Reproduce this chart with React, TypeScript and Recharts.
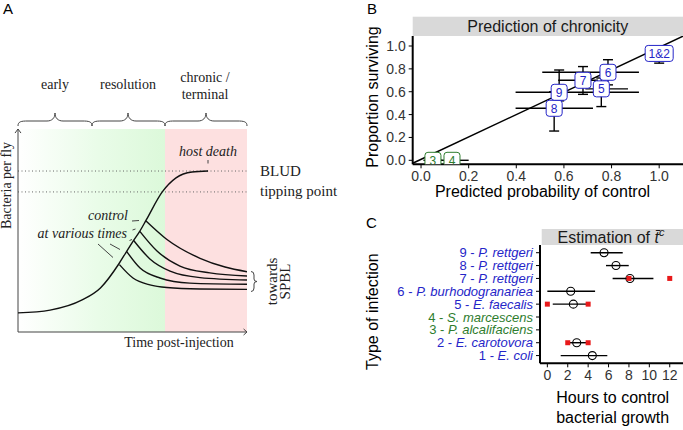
import React from "react";
import {
  ComposedChart,
  ScatterChart,
  Line,
  Scatter,
  XAxis,
  YAxis,
  ErrorBar,
  ReferenceArea,
  ReferenceLine,
} from "recharts";

// ---------- panel A: schematic course of an infection (arbitrary units 0-100)
const mainTime = [0, 14, 28, 36, 44, 47, 50, 53, 56, 63, 69, 76, 83];
const mainLoad = [9.4, 10.8, 15.8, 21.7, 33.5, 38.9, 44.3, 49.3, 55.2, 69, 75.9, 78.8, 79.3];

const ctrl1Time = [44.3, 50.2, 57.6, 65, 79.5, 100];
const ctrl1Load = [33.2, 26.6, 23.2, 21.9, 21.2, 21];
const ctrl2Time = [47.5, 53.3, 62, 75, 100];
const ctrl2Load = [39.6, 31.5, 26.6, 24.1, 23.5];
const ctrl3Time = [50.5, 57.6, 66.4, 79.5, 100];
const ctrl3Load = [45.1, 36, 30, 26.8, 25.6];
const ctrl4Time = [53.2, 60.7, 70.7, 83.8, 100];
const ctrl4Load = [49.6, 39.9, 32.5, 29.1, 27.6];
const ctrl5Time = [55.8, 64.9, 79.5, 90.4, 100];
const ctrl5Load = [54.8, 45.7, 36.3, 32, 29.7];

const phaseEdges = [0, 32.3, 64.2, 100];
const bludLevel = 79.3;
const tippingLevel = 69;

// ---------- panel B: prediction of chronicity
const chronLabels = ["1&2", "3", "4", "5", "6", "7", "8", "9"];
const chronKind = ["resolving", "chronic", "chronic", "resolving", "resolving", "resolving", "resolving", "resolving"];
const chronPred = [1.0, 0.05, 0.13, 0.757, 0.785, 0.68, 0.559, 0.58];
const chronPredLo = [1.0, 0.01, 0.07, 0.69, 0.509, 0.576, 0.397, 0.397];
const chronPredHi = [1.0, 0.09, 0.2, 0.869, 0.915, 0.743, 0.722, 0.915];
const chronSurv = [0.935, 0, 0, 0.625, 0.77, 0.7, 0.455, 0.595];
const chronSurvLo = [0.85, 0, 0, 0.47, 0.66, 0.577, 0.256, 0.52];
const chronSurvHi = [0.97, 0, 0, 0.72, 0.88, 0.82, 0.6, 0.79];
const fitPred = [-0.035, 1.1];
const fitSurv = [-0.026, 1.086];
const unitTicks = [0, 0.2, 0.4, 0.6, 0.8, 1.0];

// ---------- panel C: estimation of control time
const infectionIds = [1, 2, 3, 4, 5, 6, 7, 8, 9];
const infectionNames = [
  "E. coli",
  "E. carotovora",
  "P. alcalifaciens",
  "S. marcescens",
  "E. faecalis",
  "P. burhodogranariea",
  "P. rettgeri",
  "P. rettgeri",
  "P. rettgeri",
];
const infectionKind = ["resolving", "resolving", "chronic", "chronic", "resolving", "resolving", "resolving", "resolving", "resolving"];
const ctrlHours = [4.41, 2.88, null, null, 2.55, 2.29, 8.1, 6.73, 5.56];
const ctrlHoursLo = [1.31, 1.96, null, null, 0.53, 0.0, 6.4, 5.75, 4.25];
const ctrlHoursHi = [5.88, 4.02, null, null, 4.02, 4.68, 10.4, 7.98, 7.39];
const obsInfection = [7, 7, 5, 5, 2, 2];
const obsHours = [8, 12, 0, 4, 2, 4];
const hourTicks = [0, 2, 4, 6, 8, 10, 12];

const kindColor: Record<string, string> = { resolving: "#2525c8", chronic: "#2e7d2e" };
const ink = "#222";
const serif = "'Liberation Serif', 'DejaVu Serif', serif";

const pts = (xs: number[], ys: number[]) => xs.map((x, i) => ({ x, y: ys[i] }));
const mainCurve = pts(mainTime, mainLoad);
const controlCurves = [
  pts(ctrl1Time, ctrl1Load),
  pts(ctrl2Time, ctrl2Load),
  pts(ctrl3Time, ctrl3Load),
  pts(ctrl4Time, ctrl4Load),
  pts(ctrl5Time, ctrl5Load),
];

const chronTable = chronLabels.map((label, i) => ({
  x: chronPred[i],
  y: chronSurv[i],
  label,
  kind: chronKind[i],
  xErr: [chronPred[i] - chronPredLo[i], chronPredHi[i] - chronPred[i]],
  yErr: [chronSurv[i] - chronSurvLo[i], chronSurvHi[i] - chronSurv[i]],
}));
const fitLine = pts(fitPred, fitSurv);

const ctrlTable = infectionIds
  .map((id, i) => ({
    y: id,
    x: ctrlHours[i],
    err: ctrlHours[i] == null ? null : [ctrlHours[i]! - ctrlHoursLo[i]!, ctrlHoursHi[i]! - ctrlHours[i]!],
  }))
  .filter((d) => d.x != null);
const obsTable = pts(obsHours, obsInfection);

function ChronLabel(props: any) {
  const { cx, cy, payload } = props;
  const w = payload.label.length > 1 ? 28 : 16;
  const c = kindColor[payload.kind];
  return (
    <g>
      <rect x={cx - w / 2} y={cy - 8} width={w} height={16} rx={3} fill="#fff" stroke={c} strokeWidth={1} />
      <text x={cx} y={cy + 4.5} textAnchor="middle" fontSize={12} fill={c}>
        {payload.label}
      </text>
    </g>
  );
}

function OpenCircle(props: any) {
  return <circle cx={props.cx} cy={props.cy} r={4} fill="none" stroke="#000" strokeWidth={1.1} />;
}

function RedSquare(props: any) {
  return <rect x={props.cx - 2.5} y={props.cy - 2.5} width={5} height={5} fill="#e8191a" />;
}

function InfectionTick(props: any) {
  const { x, y, payload } = props;
  const i = payload.value - 1;
  return (
    <text x={x} y={y} dy="0.35em" textAnchor="end" fontSize={13} fill={kindColor[infectionKind[i]]}>
      <tspan>{payload.value} - </tspan>
      <tspan fontStyle="italic">{infectionNames[i]}</tspan>
    </text>
  );
}

function brace(x1: number, x2: number, mid: number) {
  return `M${x1},126 C${x1},121.5 ${x1 + 3},121 ${x1 + 10},121 L${mid - 8},121 C${mid - 3},121 ${mid},118 ${mid},113 C${mid},118 ${mid + 3},121 ${mid + 8},121 L${x2 - 10},121 C${x2 - 3},121 ${x2},121.5 ${x2},126`;
}

const axisStyle = { stroke: "#000", strokeWidth: 2 };
const tickStyle = { fill: "#333", fontSize: 14 };

export default function App() {
  return (
    <div
      style={{
        position: "absolute",
        left: 0,
        top: 0,
        width: 683,
        height: 430,
        background: "#fff",
        overflow: "hidden",
        fontFamily: "'Liberation Sans', Arial, sans-serif",
      }}
    >
      {/* panel A */}
      <div style={{ position: "absolute", left: 0, top: 0 }}>
        <ComposedChart width={340} height={430} margin={{ top: 129, right: 93, bottom: 98, left: 18 }}>
          <defs>
            <linearGradient id="greenFade" x1="0" y1="0" x2="1" y2="0">
              <stop offset="0%" stopColor="#ffffff" />
              <stop offset="55%" stopColor="#e9fce8" />
              <stop offset="100%" stopColor="#dcf9da" />
            </linearGradient>
          </defs>
          <XAxis type="number" dataKey="x" domain={[0, 100]} hide allowDataOverflow />
          <YAxis type="number" dataKey="y" domain={[0, 100]} hide allowDataOverflow />
          <ReferenceArea x1={phaseEdges[0]} x2={phaseEdges[2]} y1={0} y2={100} fill="url(#greenFade)" fillOpacity={1} stroke="none" />
          <ReferenceArea x1={phaseEdges[2]} x2={phaseEdges[3]} y1={0} y2={100} fill="#fde0e0" fillOpacity={1} stroke="none" />
          <ReferenceLine y={bludLevel} stroke="#666" strokeDasharray="1 2.5" />
          <ReferenceLine y={tippingLevel} stroke="#666" strokeDasharray="1 2.5" />
          <ReferenceLine x={0} stroke="#444" />
          <ReferenceLine y={0} stroke="#444" />
          <ReferenceLine segment={[{ x: -1.3, y: 98 }, { x: 0, y: 100 }]} stroke="#444" ifOverflow="visible" />
          <ReferenceLine segment={[{ x: 1.3, y: 98 }, { x: 0, y: 100 }]} stroke="#444" ifOverflow="visible" />
          <ReferenceLine segment={[{ x: 98.5, y: 1.5 }, { x: 100, y: 0 }]} stroke="#444" ifOverflow="visible" />
          <ReferenceLine segment={[{ x: 98.5, y: -1.5 }, { x: 100, y: 0 }]} stroke="#444" ifOverflow="visible" />
          <Line data={mainCurve} dataKey="y" type="monotone" stroke="#111" strokeWidth={1.4} dot={false} isAnimationActive={false} />
          {controlCurves.map((c, i) => (
            <Line key={i} data={c} dataKey="y" type="monotone" stroke="#111" strokeWidth={1.4} dot={false} isAnimationActive={false} />
          ))}
        </ComposedChart>
      </div>

      {/* panel B */}
      <div style={{ position: "absolute", left: 340, top: 0 }}>
        <ComposedChart width={343} height={215} margin={{ top: 36, right: 0, bottom: 0, left: 0 }}>
          <XAxis
            type="number"
            dataKey="x"
            domain={[-0.035, 1.1]}
            ticks={unitTicks}
            tickFormatter={(v: number) => v.toFixed(1)}
            allowDataOverflow
            interval={0}
            height={50.7}
            axisLine={axisStyle}
            tickLine={{ stroke: "#000" }}
            tickSize={4}
            tickMargin={3}
            tick={tickStyle}
          />
          <YAxis
            type="number"
            dataKey="y"
            domain={[-0.035, 1.0875]}
            ticks={unitTicks}
            tickFormatter={(v: number) => v.toFixed(1)}
            allowDataOverflow
            interval={0}
            width={72.7}
            axisLine={axisStyle}
            tickLine={{ stroke: "#000" }}
            tickSize={4}
            tickMargin={3}
            tick={tickStyle}
          />
          <Line data={fitLine} dataKey="y" type="linear" stroke="#000" strokeWidth={1.5} dot={false} isAnimationActive={false} />
          <Scatter data={chronTable} shape={ChronLabel} isAnimationActive={false}>
            <ErrorBar dataKey="xErr" direction="x" width={0} stroke="#000" strokeWidth={1.4} />
            <ErrorBar dataKey="yErr" direction="y" width={5} stroke="#000" strokeWidth={1.4} />
          </Scatter>
        </ComposedChart>
      </div>

      {/* panel C */}
      <div style={{ position: "absolute", left: 340, top: 215 }}>
        <ScatterChart width={343} height={215} margin={{ top: 30, right: 0, bottom: 0, left: 0 }}>
          <XAxis
            type="number"
            dataKey="x"
            domain={[-0.72, 13.3]}
            ticks={hourTicks}
            allowDataOverflow
            interval={0}
            height={66.7}
            axisLine={axisStyle}
            tickLine={{ stroke: "#000" }}
            tickSize={4}
            tickMargin={3}
            tick={tickStyle}
          />
          <YAxis
            type="number"
            dataKey="y"
            domain={[0.4, 9.6]}
            ticks={infectionIds}
            allowDataOverflow
            interval={0}
            width={200}
            axisLine={axisStyle}
            tickLine={{ stroke: "#000" }}
            tickSize={4}
            tickMargin={3}
            tick={<InfectionTick />}
          />
          <Scatter data={ctrlTable} shape={OpenCircle} isAnimationActive={false}>
            <ErrorBar dataKey="err" direction="x" width={0} stroke="#000" strokeWidth={1.4} />
          </Scatter>
          <Scatter data={obsTable} shape={RedSquare} isAnimationActive={false} />
        </ScatterChart>
      </div>

      {/* annotations */}
      <svg width={683} height={430} style={{ position: "absolute", left: 0, top: 0, pointerEvents: "none" }}>
        <text x={3} y={14} fontSize={15} fill="#000">A</text>
        <text x={367} y={14} fontSize={15} fill="#000">B</text>
        <text x={366} y={228} fontSize={15} fill="#000">C</text>

        <g fontFamily={serif} fill={ink} fontSize={14}>
          <text x={55} y={89} textAnchor="middle">early</text>
          <text x={128} y={89} textAnchor="middle">resolution</text>
          <text x={205} y={81.5} textAnchor="middle">chronic /</text>
          <text x={205} y={99} textAnchor="middle">terminal</text>
          <text x={208} y={156} textAnchor="middle" fontStyle="italic">host death</text>
          <text x={260} y={176} fontSize={15}>BLUD</text>
          <text x={260} y={196} fontSize={15}>tipping point</text>
          <text x={128} y={220} textAnchor="end" fontStyle="italic">control</text>
          <text x={127} y={238} textAnchor="end" fontStyle="italic">at various times</text>
          <text x={179} y={347} textAnchor="middle">Time post-injection</text>
          <text transform="translate(10.5,185.5) rotate(-90)" textAnchor="middle">Bacteria per fly</text>
          <text transform="translate(277,281.5) rotate(-90)" textAnchor="middle" fontSize={15}>towards</text>
          <text transform="translate(290,281.5) rotate(-90)" textAnchor="middle" fontSize={15}>SPBL</text>
        </g>
        <g fill="none" stroke="#444" strokeWidth={1}>
          <path d={brace(18, 92, 55)} />
          <path d={brace(92, 165, 128)} />
          <path d={brace(165, 247, 206)} />
          <path d="M251,271.5 Q254,271.5 254,275 L254,279 Q254,281.5 257,281.5 Q254,281.5 254,284 L254,288 Q254,291.5 251,291.5" />
          <line x1={208} y1={160} x2={208} y2={163.5} />
          <line x1={132} y1={221} x2={139} y2={220.5} />
          <line x1={132.5} y1={230} x2={135.5} y2={229} />
          <line x1={129.5} y1={240.5} x2={132} y2={239.5} />
          <line x1={98} y1={244} x2={113} y2={257.5} />
          <line x1={110} y1={244} x2={120} y2={249.5} />
        </g>

        <rect x={412.7} y={16.7} width={270.3} height={19.3} fill="#d9d9d9" />
        <text x={547.8} y={32} textAnchor="middle" fontSize={16} fill="#1a1a1a">Prediction of chronicity</text>
        <text transform="translate(378,97) rotate(-90)" textAnchor="middle" fontSize={16} fill="#000">Proportion surviving</text>
        <text x={542.5} y={197} textAnchor="middle" fontSize={16} fill="#000">Predicted probability of control</text>

        <rect x={541.7} y={229} width={141.3} height={16} fill="#d9d9d9" />
        <text x={611} y={243} textAnchor="middle" fontSize={16} fill="#1a1a1a">
          Estimation of <tspan fontStyle="italic">t&#x0304;</tspan>
          <tspan fontStyle="italic" fontSize={11} dy={-7}>c</tspan>
        </text>
        <text transform="translate(378,311.7) rotate(-90)" textAnchor="middle" fontSize={16} fill="#000">Type of infection</text>
        <text x={612.7} y={403} textAnchor="middle" fontSize={16} fill="#000">Hours to control</text>
        <text x={612.7} y={423} textAnchor="middle" fontSize={16} fill="#000">bacterial growth</text>
      </svg>
    </div>
  );
}
